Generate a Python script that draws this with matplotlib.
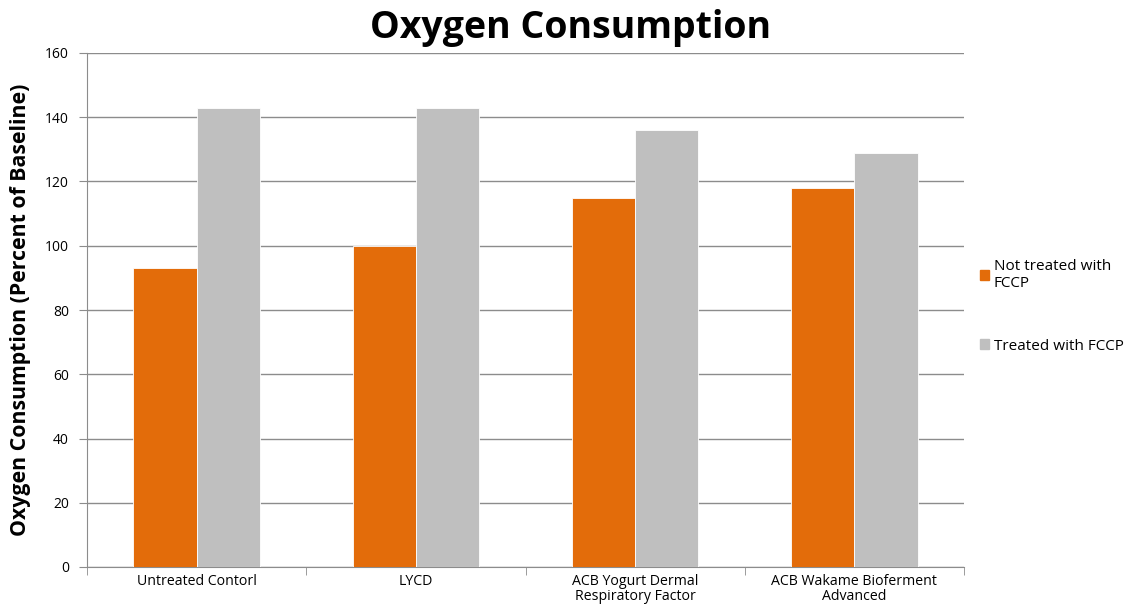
import numpy as np
import matplotlib as mpl
import matplotlib.pyplot as plt
from matplotlib.patches import Patch

categories = ["Untreated Contorl", "LYCD", "ACB Yogurt Dermal\nRespiratory Factor",
              "ACB Wakame Bioferment\nAdvanced"]
not_treated = [93, 100, 115, 118]
treated = [143, 143, 136, 129]
series_names = ["Not treated with\nFCCP", "Treated with FCCP"]
colors = ["#E36C0A", "#BFBFBF"]

mpl.rcParams['font.family'] = ['Open Sans', 'DejaVu Sans']

fig = plt.figure(figsize=(11.28, 6.07), dpi=100)
ax = fig.add_axes([87/1128, 1 - 567/607, (964-87)/1128, (567-53)/607])

x = np.arange(len(categories))
w = 0.288
ax.bar(x - w/2, not_treated, w, color=colors[0], edgecolor='white', linewidth=0.6, zorder=3)
ax.bar(x + w/2, treated, w, color=colors[1], edgecolor='white', linewidth=0.6, zorder=3)

ax.set_xlim(-0.5, len(categories) - 0.5)
ax.set_ylim(0, 160)
ax.set_yticks(np.arange(0, 161, 20))
ax.grid(axis='y', color='#8c8c8c', linewidth=1.0, zorder=0)

ax.set_xticks(x)
ax.set_xticklabels(categories, fontsize=10.2, linespacing=1.0)
ax.set_xticks(np.arange(-0.5, len(categories)), minor=True)
ax.tick_params(axis='x', which='major', length=0, pad=5)
ax.tick_params(axis='x', which='minor', length=6, direction='out', color='#8c8c8c')
ax.tick_params(axis='y', length=6, color='#8c8c8c', labelsize=10, pad=7)

for s in ['top', 'right']:
    ax.spines[s].set_visible(False)
for s in ['left', 'bottom']:
    ax.spines[s].set_color('#8c8c8c')

ax.set_ylabel("Oxygen Consumption (Percent of Baseline)", fontsize=15.3,
              fontweight='bold', labelpad=10)
fig.text(571/1128, 1 - 28/607, "Oxygen Consumption", fontsize=27, fontweight='bold',
         ha='center', va='center')

handles = [Patch(color=c) for c in colors]
fig.legend(handles, series_names, loc='upper left', bbox_to_anchor=(980/1128, 1 - 259/607),
           frameon=False, handlelength=0.6, handleheight=0.6,
           handletextpad=0.3, labelspacing=3.1, borderaxespad=0, borderpad=0,
           prop={'size': 11})

fig.savefig("out.png", dpi=100)
